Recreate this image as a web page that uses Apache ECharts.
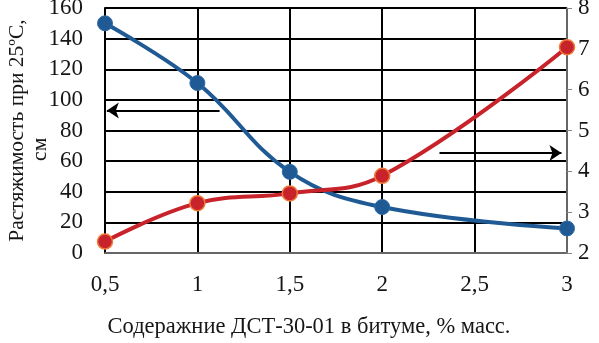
<!DOCTYPE html>
<html>
<head>
<meta charset="utf-8">
<script src="https://cdn.jsdelivr.net/npm/echarts@6/dist/echarts.min.js"></script>
<style>
  html, body { margin: 0; padding: 0; background: #fff; }
  #chart { width: 599px; height: 343px; }
</style>
</head>
<body>
<div id="chart"></div>
<script>
// содержание ДСТ, % масс.
const dst = [0.5, 1, 1.5, 2, 3]
// растяжимость при 25 °С, см (левая ось)
const ductility = [150, 111, 53, 30, 16]
// правая ось
const rightVals = [2.28, 3.22, 3.46, 3.89, 7.04]
// стрелки-указатели осей
const leftArrow = [[1.12, 93], [0.51, 93]]
const rightArrow = [[2.31, 4.45], [2.97, 4.45]]

const font = '"Liberation Serif", "DejaVu Serif", serif'
const txt = '#161616'
const chart = echarts.init(document.getElementById('chart'))

const arrow = coords => ({
  silent: true,
  symbol: ['none', 'arrow'],
  symbolSize: 12,
  label: { show: false },
  lineStyle: { color: '#000', width: 2, type: 'solid' },
  data: [[{ coord: coords[0], symbol: 'none' }, { coord: coords[1], symbol: 'arrow', symbolSize: 12 }]]
})

chart.setOption({
  animation: false,
  grid: { left: 105, right: 32, top: 8, bottom: 90, outerBoundsMode: 'none' },
  xAxis: {
    type: 'value',
    min: 0.5, max: 3, interval: 0.5,
    name: 'Содеражние ДСТ-30-01 в битуме, % масс.',
    nameLocation: 'middle',
    nameGap: 63,
    nameMoveOverlap: false,
    nameTextStyle: { color: txt, fontSize: 22.5, fontFamily: font, padding: [0, 54, 0, 0] },
    axisLine: { lineStyle: { color: '#888', width: 1.5 } },
    axisTick: { show: false },
    axisLabel: {
      color: txt, fontSize: 23, fontFamily: font, margin: 20,
      formatter: v => String(v).replace('.', ',')
    },
    splitLine: { show: true, lineStyle: { color: '#000', width: 2 } }
  },
  yAxis: [
    {
      type: 'value',
      min: 0, max: 160, interval: 20,
      name: 'Растяжимость при 25ºС,\nсм\u00a0\u00a0\u00a0\u00a0\u00a0\u00a0\u00a0',
      nameLocation: 'middle',
      nameGap: 53,
      nameMoveOverlap: false,
      nameRotate: 90,
      nameTextStyle: { color: txt, fontSize: 21.5, fontFamily: font, lineHeight: 23 },
      axisLine: { show: true, lineStyle: { color: '#000', width: 2 } },
      axisTick: { show: false },
      axisLabel: { color: txt, fontSize: 23, fontFamily: font, margin: 22 },
      splitLine: { show: true, lineStyle: { color: '#000', width: 2 } }
    },
    {
      type: 'value',
      min: 2, max: 8, interval: 1,
      position: 'right',
      axisLine: { show: true, lineStyle: { color: '#888', width: 1.5 } },
      axisTick: { show: true, length: 5, lineStyle: { color: '#888' } },
      axisLabel: { color: txt, fontSize: 23, fontFamily: font, margin: 11 },
      splitLine: { show: false }
    }
  ],
  series: [
    {
      type: 'line',
      yAxisIndex: 0,
      data: dst.map((x, i) => [x, ductility[i]]),
      smooth: 0.4,
      symbol: 'circle',
      symbolSize: 15,
      lineStyle: { color: '#1f5a94', width: 4 },
      itemStyle: { color: '#1f5a94', borderColor: '#2e6aa6', borderWidth: 1 },
      markLine: arrow(leftArrow)
    },
    {
      type: 'line',
      yAxisIndex: 1,
      data: dst.map((x, i) => [x, rightVals[i]]),
      smooth: 0.4,
      symbol: 'circle',
      symbolSize: 15,
      lineStyle: { color: '#c8222a', width: 4 },
      itemStyle: { color: '#c8222a', borderColor: '#f07a3a', borderWidth: 1.5 },
      markLine: arrow(rightArrow)
    }
  ]
})
</script>
</body>
</html>
